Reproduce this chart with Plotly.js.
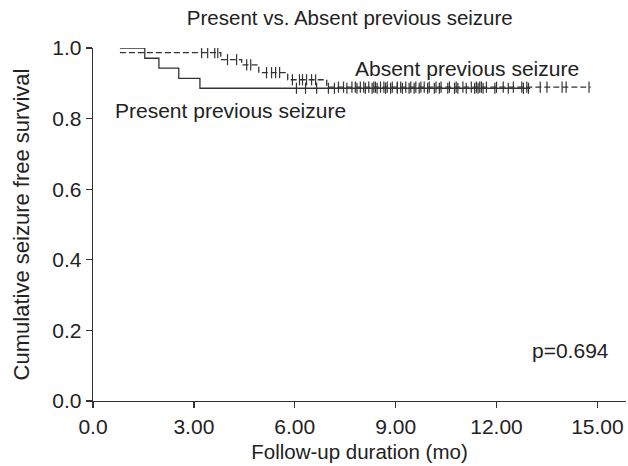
<!DOCTYPE html>
<html>
<head>
<meta charset="utf-8">
<script src="https://cdn.plot.ly/plotly-3.0.1.min.js"></script>
<style>html,body{margin:0;padding:0;background:#fff}#chart{width:628px;height:466px}</style>
</head>
<body>
<div id="chart"></div>
<script>
// Kaplan-Meier step data
const presentTimes = [0.8, 1.54, 1.96, 2.55, 3.18, 13.0];
const presentSurv  = [1.0, 0.971, 0.943, 0.914, 0.886, 0.886];
const absentTimes  = [0.8, 3.8, 4.42, 4.93, 5.79, 6.95, 14.8];
const absentSurv   = [0.987, 0.967, 0.952, 0.930, 0.910, 0.889, 0.889];
// censored observations (months)
const presentCensor = [6.05, 6.32, 6.65, 7.0, 7.18, 7.55, 7.85, 8.1, 8.3, 8.45, 8.7, 8.85, 9.05, 9.2, 9.4, 9.55, 9.7, 9.95, 10.15, 10.3, 10.55, 10.75, 10.85, 11.1, 11.35, 11.45, 11.6, 11.95, 12.35, 12.8, 12.95];
const absentCensor = [3.23, 3.41, 3.62, 3.71, 4.0, 4.27, 4.57, 4.69, 5.16, 5.31, 5.43, 5.55, 5.93, 6.14, 6.23, 6.35, 6.5, 6.62, 7.3, 7.45, 7.7, 7.8, 7.95, 8.05, 8.2, 8.35, 8.4, 8.55, 8.65, 8.75, 8.9, 9.05, 9.15, 9.3, 9.45, 9.6, 9.75, 9.85, 10.0, 10.2, 10.35, 10.6, 10.8, 11.0, 11.25, 11.4, 11.5, 11.55, 11.7, 12.0, 12.2, 12.5, 12.75, 12.9, 13.3, 13.5, 13.95, 14.07, 14.75];
const xTickVals = [0, 3, 6, 9, 12, 15];
const xTickText = ['0.0', '3.00', '6.00', '9.00', '12.00', '15.00'];
const yTickVals = [0, 0.2, 0.4, 0.6, 0.8, 1.0];
const groupLabels = ['Absent previous seizure', 'Present previous seizure'];
const pText = 'p=0.694';

function survAt(times, surv, t) {
  let v = surv[0];
  for (let i = 0; i < times.length; i++) { if (times[i] <= t) v = surv[i]; }
  return v;
}

const ink = '#333333';
const mk = {symbol: 'line-ns-open', size: 8, color: ink, line: {color: ink, width: 1.2}};
const traces = [
  {x: presentTimes, y: presentSurv, mode: 'lines', line: {shape: 'hv', color: ink, width: 1.3}, hoverinfo: 'skip'},
  {x: absentTimes, y: absentSurv, mode: 'lines', line: {shape: 'hv', color: ink, width: 1.3, dash: '6px,3px'}, hoverinfo: 'skip'},
  {x: presentCensor, y: presentCensor.map(t => survAt(presentTimes, presentSurv, t)), mode: 'markers', marker: mk, hoverinfo: 'skip'},
  {x: absentCensor, y: absentCensor.map(t => survAt(absentTimes, absentSurv, t)), mode: 'markers', marker: mk, hoverinfo: 'skip'}
];

const FAM = 'Liberation Sans, Arial, sans-serif';
const fnt = {family: FAM, size: 21, color: '#222'};
const layout = {
  width: 628, height: 466,
  margin: {l: 93, r: 2, t: 48, b: 65},
  paper_bgcolor: '#fff', plot_bgcolor: '#fff',
  showlegend: false,
  font: fnt,
  title: {text: 'Present vs. Absent previous seizure', font: {family: FAM, size: 20.5, color: '#222'}, x: 0.557, xanchor: 'center', y: 0.962, yanchor: 'middle'},
  xaxis: {range: [0, 15.85], tickvals: xTickVals, ticktext: xTickText, showgrid: false, zeroline: false,
          showline: true, linecolor: ink, linewidth: 1.3, ticks: 'outside', ticklen: 6, tickcolor: ink, tickwidth: 1.3,
          tickfont: fnt, title: {text: 'Follow-up duration (mo)', font: {family: FAM, size: 20.5, color: '#222'}, standoff: 8}},
  yaxis: {range: [0, 1.0], tickvals: yTickVals, tickformat: '.1f', showgrid: false, zeroline: false,
          showline: true, linecolor: ink, linewidth: 1.3, ticks: 'outside', ticklen: 6, tickcolor: ink, tickwidth: 1.3,
          tickfont: fnt, title: {text: 'Cumulative seizure free survival', font: {family: FAM, size: 22, color: '#222'}, standoff: 16}},
  annotations: [
    {x: 11.13, y: 0.943, xref: 'x', yref: 'y', text: groupLabels[0], showarrow: false, font: fnt, xanchor: 'center', yanchor: 'middle'},
    {x: 4.1, y: 0.824, xref: 'x', yref: 'y', text: groupLabels[1], showarrow: false, font: fnt, xanchor: 'center', yanchor: 'middle'},
    {x: 14.2, y: 0.144, xref: 'x', yref: 'y', text: pText, showarrow: false, font: fnt, xanchor: 'center', yanchor: 'middle'}
  ]
};
Plotly.newPlot('chart', traces, layout, {displayModeBar: false, staticPlot: true});
</script>
</body>
</html>
